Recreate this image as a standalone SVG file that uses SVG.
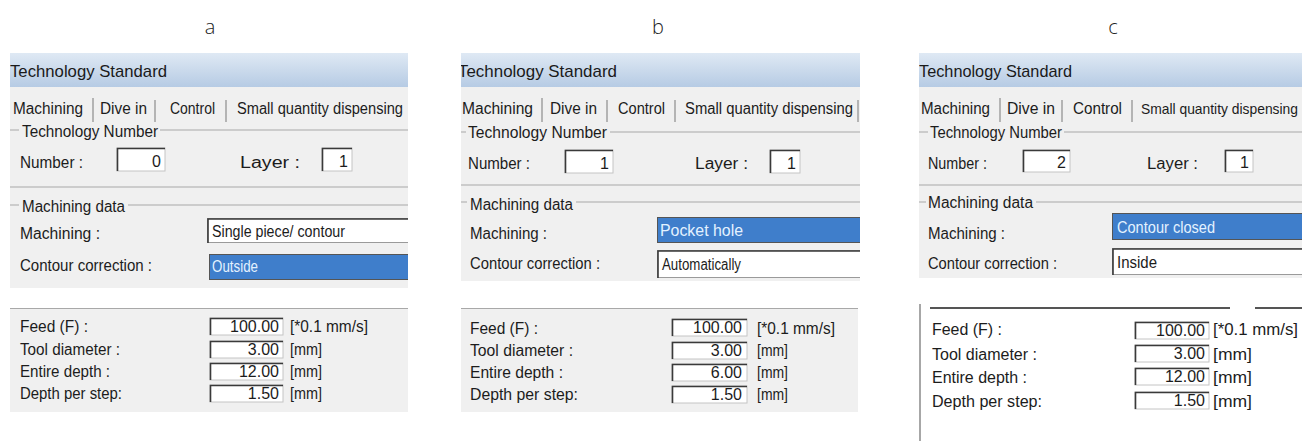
<svg xmlns="http://www.w3.org/2000/svg" width="1302" height="441" viewBox="0 0 1302 441">
<defs>
<linearGradient id="tb" x1="0" y1="0" x2="0" y2="1">
<stop offset="0" stop-color="#dfe9f4"/>
<stop offset="1" stop-color="#b6cbe4"/>
</linearGradient>
<clipPath id="ca"><rect x="10" y="50" width="398" height="391"/></clipPath>
<clipPath id="cb"><rect x="461" y="50" width="399" height="391"/></clipPath>
<clipPath id="cc"><rect x="919" y="50" width="383" height="391"/></clipPath>
<style>
.lbl{font-family:"Liberation Sans",Arial,sans-serif;font-size:16px;fill:#1c1c1c}
.ttl{font-family:"Liberation Sans",Arial,sans-serif;font-size:17px;fill:#1a1a1a}
.sel{font-family:"Liberation Sans",Arial,sans-serif;font-size:16px;fill:#e4f2ff}
.val{font-family:"Liberation Sans",Arial,sans-serif;font-size:16px;fill:#1c1c1c;text-anchor:end}
.cap{font-family:"Open Sans","DejaVu Sans",sans-serif;font-weight:300;font-size:20px;fill:#222;text-anchor:middle}
.bg{fill:#f0f0f0}
.grp{stroke:#a8a8a8;stroke-width:1;fill:none}
.sep{stroke:#8c8c8c;stroke-width:1.2;fill:none}
.fld{fill:#fff;stroke:#c4c4c4;stroke-width:1}
.fdk{fill:none;stroke:#3a3a3a;stroke-width:1.6}
.hl{fill:#3f7ecb;stroke:#555;stroke-width:1}
.combo{fill:#fff;stroke:#9a9a9a;stroke-width:1}
</style>
</defs>
<rect width="1302" height="441" fill="#fff"/>

<g id="captions">
<text class="cap" x="210" y="34">a</text>
<text class="cap" x="658" y="34">b</text>
<text class="cap" x="1113" y="34">c</text>
</g>

<!-- Panel a -->
<g id="panel-a" clip-path="url(#ca)">
<rect x="10" y="53" width="398" height="34" fill="url(#tb)"/>
<text class="ttl" x="10" y="77" textLength="157" lengthAdjust="spacingAndGlyphs">Technology Standard</text>
<rect class="bg" x="10" y="87" width="398" height="201"/>
<text class="lbl" x="13" y="114" textLength="70" lengthAdjust="spacingAndGlyphs">Machining</text>
<line class="sep" x1="93" y1="98" x2="93" y2="122"/>
<text class="lbl" x="100" y="114" textLength="47" lengthAdjust="spacingAndGlyphs">Dive in</text>
<line class="sep" x1="155" y1="100" x2="155" y2="122"/>
<text class="lbl" x="170" y="114" textLength="45" lengthAdjust="spacingAndGlyphs">Control</text>
<line class="sep" x1="226" y1="100" x2="226" y2="122"/>
<text class="lbl" x="237" y="114" textLength="166" lengthAdjust="spacingAndGlyphs">Small quantity dispensing</text>
<path class="grp" d="M10 130H19M160 130H408"/>
<text class="lbl" x="22" y="137" textLength="136" lengthAdjust="spacingAndGlyphs">Technology Number</text>
<text class="lbl" x="20" y="168" textLength="63" lengthAdjust="spacingAndGlyphs">Number :</text>
<rect class="fld" x="117" y="148" width="48" height="23"/>
<path class="fdk" d="M117.5 171V148.5H165"/>
<text class="val" x="161" y="167">0</text>
<text class="lbl" x="240" y="168" textLength="60" lengthAdjust="spacingAndGlyphs">Layer :</text>
<rect class="fld" x="322" y="148" width="30" height="23"/>
<path class="fdk" d="M322.5 171V148.5H352"/>
<text class="val" x="348" y="167">1</text>
<path class="grp" d="M10 187H408"/>
<path class="grp" d="M10 205H19M128 205H408"/>
<text class="lbl" x="22" y="212" textLength="103" lengthAdjust="spacingAndGlyphs">Machining data</text>
<text class="lbl" x="20" y="239" textLength="80" lengthAdjust="spacingAndGlyphs">Machining :</text>
<rect class="combo" x="207.5" y="218.5" width="210" height="24"/>
<path class="fdk" d="M208 243V219H410" stroke-width="1"/>
<text class="lbl" x="212" y="237" textLength="133" lengthAdjust="spacingAndGlyphs">Single piece/ contour</text>
<text class="lbl" x="20" y="271" textLength="132" lengthAdjust="spacingAndGlyphs">Contour correction :</text>
<rect class="hl" x="209.5" y="254.5" width="210" height="25"/>
<text class="sel" x="212" y="272" textLength="46" lengthAdjust="spacingAndGlyphs">Outside</text>
<rect class="bg" x="10" y="308" width="398" height="104"/>
<path class="grp" d="M10 308.5H408"/>
<text class="lbl" x="20" y="332" textLength="68" lengthAdjust="spacingAndGlyphs">Feed (F) :</text>
<text class="lbl" x="20" y="355" textLength="100" lengthAdjust="spacingAndGlyphs">Tool diameter :</text>
<text class="lbl" x="20" y="377" textLength="90" lengthAdjust="spacingAndGlyphs">Entire depth :</text>
<text class="lbl" x="20" y="399" textLength="102" lengthAdjust="spacingAndGlyphs">Depth per step:</text>
<rect class="fld" x="210" y="318" width="73" height="17"/><path class="fdk" d="M210.5 335V318.5H283"/>
<rect class="fld" x="210" y="341" width="73" height="17"/><path class="fdk" d="M210.5 358V341.5H283"/>
<rect class="fld" x="210" y="363" width="73" height="17"/><path class="fdk" d="M210.5 380V363.5H283"/>
<rect class="fld" x="210" y="385" width="73" height="17"/><path class="fdk" d="M210.5 402V385.5H283"/>
<text class="val" x="279" y="332">100.00</text>
<text class="val" x="279" y="355">3.00</text>
<text class="val" x="279" y="377">12.00</text>
<text class="val" x="279" y="399">1.50</text>
<text class="lbl" x="290" y="332" textLength="78" lengthAdjust="spacingAndGlyphs">[*0.1 mm/s]</text>
<text class="lbl" x="290" y="355" textLength="32" lengthAdjust="spacingAndGlyphs">[mm]</text>
<text class="lbl" x="290" y="377" textLength="32" lengthAdjust="spacingAndGlyphs">[mm]</text>
<text class="lbl" x="290" y="399" textLength="32" lengthAdjust="spacingAndGlyphs">[mm]</text>
</g>

<!-- Panel b -->
<g id="panel-b" clip-path="url(#cb)">
<rect x="461" y="53" width="399" height="34" fill="url(#tb)"/>
<text class="ttl" x="458" y="77" textLength="159" lengthAdjust="spacingAndGlyphs">Technology Standard</text>
<rect class="bg" x="461" y="87" width="399" height="194"/>
<text class="lbl" x="462" y="114" textLength="71" lengthAdjust="spacingAndGlyphs">Machining</text>
<line class="sep" x1="542" y1="98" x2="542" y2="122"/>
<text class="lbl" x="550" y="114" textLength="47" lengthAdjust="spacingAndGlyphs">Dive in</text>
<line class="sep" x1="607" y1="100" x2="607" y2="122"/>
<text class="lbl" x="618" y="114" textLength="47" lengthAdjust="spacingAndGlyphs">Control</text>
<line class="sep" x1="675" y1="100" x2="675" y2="122"/>
<text class="lbl" x="685" y="114" textLength="168" lengthAdjust="spacingAndGlyphs">Small quantity dispensing</text>
<line class="sep" x1="858" y1="100" x2="858" y2="122"/>
<path class="grp" d="M461 132H466M610 132H860"/>
<text class="lbl" x="468" y="138" textLength="139" lengthAdjust="spacingAndGlyphs">Technology Number</text>
<text class="lbl" x="468" y="169" textLength="62" lengthAdjust="spacingAndGlyphs">Number :</text>
<rect class="fld" x="565" y="150" width="48" height="23"/>
<path class="fdk" d="M565.5 173V150.5H613"/>
<text class="val" x="609" y="169">1</text>
<text class="lbl" x="695" y="169" textLength="53" lengthAdjust="spacingAndGlyphs">Layer :</text>
<rect class="fld" x="770" y="150" width="30" height="23"/>
<path class="fdk" d="M770.5 173V150.5H800"/>
<text class="val" x="796" y="169">1</text>
<path class="grp" d="M461 185H860"/>
<path class="grp" d="M461 202H467M576 202H860"/>
<text class="lbl" x="470" y="210" textLength="103" lengthAdjust="spacingAndGlyphs">Machining data</text>
<text class="lbl" x="470" y="239" textLength="77" lengthAdjust="spacingAndGlyphs">Machining :</text>
<rect class="hl" x="657.5" y="217.5" width="210" height="25"/>
<text class="sel" x="660" y="236" textLength="83" lengthAdjust="spacingAndGlyphs">Pocket hole</text>
<text class="lbl" x="470" y="269" textLength="130" lengthAdjust="spacingAndGlyphs">Contour correction :</text>
<rect class="combo" x="657.5" y="250.5" width="210" height="27"/>
<path class="fdk" d="M658 278V251H862" stroke-width="1"/>
<text class="lbl" x="662" y="270" textLength="79" lengthAdjust="spacingAndGlyphs">Automatically</text>
<rect class="bg" x="461" y="308" width="397" height="104"/>
<path class="grp" d="M461 308.5H858"/>
<text class="lbl" x="470" y="334" textLength="68" lengthAdjust="spacingAndGlyphs">Feed (F) :</text>
<text class="lbl" x="470" y="356" textLength="103" lengthAdjust="spacingAndGlyphs">Tool diameter :</text>
<text class="lbl" x="470" y="378" textLength="93" lengthAdjust="spacingAndGlyphs">Entire depth :</text>
<text class="lbl" x="470" y="400" textLength="108" lengthAdjust="spacingAndGlyphs">Depth per step:</text>
<rect class="fld" x="672" y="319" width="75" height="17"/><path class="fdk" d="M672.5 336V319.5H747"/>
<rect class="fld" x="672" y="342" width="75" height="17"/><path class="fdk" d="M672.5 359V342.5H747"/>
<rect class="fld" x="672" y="364" width="75" height="17"/><path class="fdk" d="M672.5 381V364.5H747"/>
<rect class="fld" x="672" y="386" width="75" height="17"/><path class="fdk" d="M672.5 403V386.5H747"/>
<text class="val" x="742" y="333">100.00</text>
<text class="val" x="742" y="356">3.00</text>
<text class="val" x="742" y="378">6.00</text>
<text class="val" x="742" y="400">1.50</text>
<text class="lbl" x="757" y="334" textLength="78" lengthAdjust="spacingAndGlyphs">[*0.1 mm/s]</text>
<text class="lbl" x="757" y="356" textLength="31" lengthAdjust="spacingAndGlyphs">[mm]</text>
<text class="lbl" x="757" y="378" textLength="31" lengthAdjust="spacingAndGlyphs">[mm]</text>
<text class="lbl" x="757" y="400" textLength="31" lengthAdjust="spacingAndGlyphs">[mm]</text>
</g>

<!-- Panel c -->
<g id="panel-c" clip-path="url(#cc)">
<rect x="919" y="53" width="383" height="34" fill="url(#tb)"/>
<text class="ttl" x="919" y="77" textLength="153" lengthAdjust="spacingAndGlyphs">Technology Standard</text>
<rect class="bg" x="919" y="87" width="383" height="191"/>
<text class="lbl" x="921" y="114" textLength="69" lengthAdjust="spacingAndGlyphs">Machining</text>
<line class="sep" x1="1000" y1="98" x2="1000" y2="122"/>
<text class="lbl" x="1007" y="114" textLength="48" lengthAdjust="spacingAndGlyphs">Dive in</text>
<line class="sep" x1="1062" y1="100" x2="1062" y2="122"/>
<text class="lbl" x="1073" y="114" textLength="49" lengthAdjust="spacingAndGlyphs">Control</text>
<line class="sep" x1="1132" y1="100" x2="1132" y2="122"/>
<text class="lbl" x="1141" y="114" style="font-size:14.2px" textLength="157" lengthAdjust="spacingAndGlyphs">Small quantity dispensing</text>
<path class="grp" d="M919 132H928M1064 132H1302"/>
<text class="lbl" x="930" y="138" textLength="132" lengthAdjust="spacingAndGlyphs">Technology Number</text>
<text class="lbl" x="928" y="169" textLength="59" lengthAdjust="spacingAndGlyphs">Number :</text>
<rect class="fld" x="1023" y="150" width="47" height="22"/>
<path class="fdk" d="M1023.5 172V150.5H1070"/>
<text class="val" x="1066" y="168">2</text>
<text class="lbl" x="1147" y="169" textLength="51" lengthAdjust="spacingAndGlyphs">Layer :</text>
<rect class="fld" x="1225" y="150" width="28" height="22"/>
<path class="fdk" d="M1225.5 172V150.5H1253"/>
<text class="val" x="1249" y="168">1</text>
<path class="grp" d="M919 185H1302"/>
<path class="grp" d="M919 202H926M1036 202H1302"/>
<text class="lbl" x="928" y="208" textLength="105" lengthAdjust="spacingAndGlyphs">Machining data</text>
<text class="lbl" x="928" y="239" textLength="77" lengthAdjust="spacingAndGlyphs">Machining :</text>
<rect class="hl" x="1112.5" y="213.5" width="200" height="26"/>
<text class="sel" x="1117" y="233" textLength="98" lengthAdjust="spacingAndGlyphs">Contour closed</text>
<text class="lbl" x="928" y="269" textLength="129" lengthAdjust="spacingAndGlyphs">Contour correction :</text>
<rect class="combo" x="1112.5" y="248.5" width="200" height="26"/>
<path class="fdk" d="M1113 275V249H1302" stroke-width="1"/>
<text class="lbl" x="1117" y="268" textLength="40" lengthAdjust="spacingAndGlyphs">Inside</text>
<path d="M930 308H1230M1255 308H1302" stroke="#555" stroke-width="2" fill="none"/>
<path d="M920 304V441" stroke="#8a8a8a" stroke-width="1.5" fill="none"/>
<text class="lbl" x="932" y="335" textLength="70" lengthAdjust="spacingAndGlyphs">Feed (F) :</text>
<text class="lbl" x="932" y="360" textLength="105" lengthAdjust="spacingAndGlyphs">Tool diameter :</text>
<text class="lbl" x="932" y="383" textLength="95" lengthAdjust="spacingAndGlyphs">Entire depth :</text>
<text class="lbl" x="932" y="407" textLength="110" lengthAdjust="spacingAndGlyphs">Depth per step:</text>
<rect class="fld" x="1135" y="322" width="74" height="17"/><path class="fdk" d="M1135.5 339V322.5H1209"/>
<rect class="fld" x="1135" y="345" width="74" height="17"/><path class="fdk" d="M1135.5 362V345.5H1209"/>
<rect class="fld" x="1135" y="368" width="74" height="17"/><path class="fdk" d="M1135.5 385V368.5H1209"/>
<rect class="fld" x="1135" y="392" width="74" height="17"/><path class="fdk" d="M1135.5 409V392.5H1209"/>
<text class="val" x="1205" y="336">100.00</text>
<text class="val" x="1205" y="359">3.00</text>
<text class="val" x="1205" y="382">12.00</text>
<text class="val" x="1205" y="406">1.50</text>
<text class="lbl" x="1213" y="335" textLength="85" lengthAdjust="spacingAndGlyphs">[*0.1 mm/s]</text>
<text class="lbl" x="1213" y="360" textLength="39" lengthAdjust="spacingAndGlyphs">[mm]</text>
<text class="lbl" x="1213" y="383" textLength="39" lengthAdjust="spacingAndGlyphs">[mm]</text>
<text class="lbl" x="1213" y="407" textLength="39" lengthAdjust="spacingAndGlyphs">[mm]</text>
</g>
</svg>
